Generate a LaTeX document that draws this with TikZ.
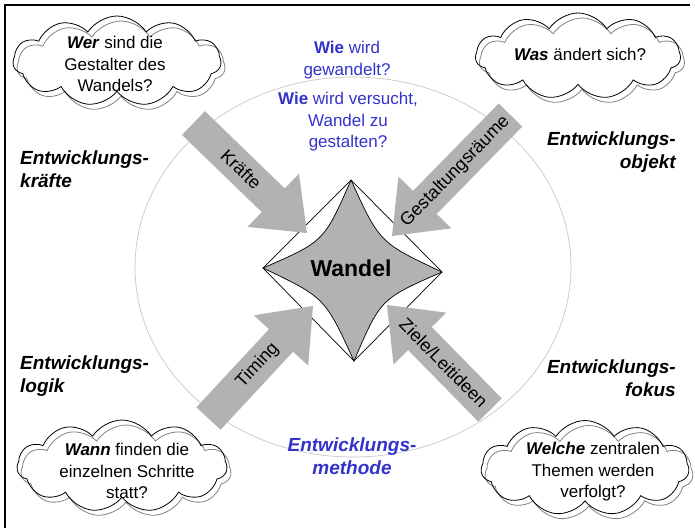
\documentclass[tikz,border=0pt]{standalone}
\usepackage{fontspec}
\setmainfont{Liberation Sans}
\usetikzlibrary{shapes.symbols,calc}
\definecolor{arrowgray}{RGB}{178,178,178}
\definecolor{wiblue}{RGB}{51,51,204}
\definecolor{ringgray}{RGB}{200,200,200}
\definecolor{shadowgray}{RGB}{130,130,130}
\newcommand{\grayarrow}[3]{%
  \coordinate (#3n) at ($(#2)!47pt!(#1)$);
  \fill[arrowgray] ($(#1)!16.5pt!90:(#2)$) -- ($(#3n)!16.5pt!90:(#2)$) --
    ($(#3n)!37pt!90:(#2)$) -- (#2) -- ($(#3n)!37pt!-90:(#2)$) --
    ($(#3n)!16.5pt!-90:(#2)$) -- ($(#1)!16.5pt!-90:(#2)$) -- cycle;}
\tikzset{
  cloudblack/.style={cloud, draw=black, line width=0.8pt, cloud puffs=11, cloud puff arc=115, inner sep=0pt},
  cloudgray/.style={cloud, draw=shadowgray, line width=0.8pt, cloud puffs=11, cloud puff arc=115, inner sep=0pt},
  cloudtext/.style={align=center, font=\fontsize{17}{21.5}\selectfont, inner sep=0pt},
  heading/.style={font=\fontsize{19}{23.5}\selectfont\bfseries\itshape, inner sep=0pt},
  bluetext/.style={align=center, text=wiblue, font=\fontsize{17}{21.5}\selectfont, inner sep=0pt},
  arrowlabel/.style={sloped, font=\fontsize{18}{20}\selectfont, inner sep=0pt},
}
\begin{document}
\begin{tikzpicture}[x=1pt,y=-1pt]
\useasboundingbox (0,0) rectangle (695,528);
\fill[white] (0,0) rectangle (695,528);
% frame
\draw[line width=2pt] (690,5) -- (5,5) -- (5,528);
% ring
\draw[ringgray, line width=0.7pt] (353,267) ellipse [x radius=218, y radius=190];
% diamond and star
\coordinate (T) at (351,180);
\coordinate (R) at (442,272);
\coordinate (B) at (354,361);
\coordinate (L) at (263,268);
\coordinate (C) at (352,270);
\draw[line width=0.7pt] (T) -- (R) -- (B) -- (L) -- cycle;
\draw[fill=arrowgray, line width=0.7pt]
  (T) .. controls ($(T)!0.5!(R)!0.38!(C)$) .. (R)
      .. controls ($(R)!0.5!(B)!0.38!(C)$) .. (B)
      .. controls ($(B)!0.5!(L)!0.38!(C)$) .. (L)
      .. controls ($(L)!0.5!(T)!0.38!(C)$) .. (T) -- cycle;
\node[font=\fontsize{23}{25}\selectfont\bfseries] (wandel) at (351,268) {Wandel};
% arrows
\coordinate (kt) at (193.5,123);
\coordinate (kp) at (307,233);
\coordinate (gt) at (510.5,115);
\coordinate (gp) at (392,236);
\coordinate (tt) at (208.5,418.5);
\coordinate (tp) at (313,306);
\coordinate (zt) at (490,410);
\coordinate (zp) at (387,305);
\grayarrow{kt}{kp}{ka}
\grayarrow{gt}{gp}{ga}
\grayarrow{tt}{tp}{ta}
\grayarrow{zt}{zp}{za}
\path (kt) -- (kp) node[arrowlabel, pos=0.42] (klab) {Kräfte};
\path (gt) -- (gp) node[arrowlabel, pos=0.466] (glab) {Gestaltungsräume};
\path (tt) -- (tp) node[arrowlabel, pos=0.47] (tlab) {Timing};
\path (zt) -- (zp) node[arrowlabel, pos=0.45] (zlab) {Ziele/Leitideen};
% clouds
\node[cloudgray, minimum width=208, minimum height=90, aspect=2.3] (c1g) at (121,66) {};
\node[cloudblack, minimum width=208, minimum height=90, aspect=2.3] (c1) at (117,61) {};
\node[cloudgray, minimum width=205, minimum height=86, aspect=2.4] (c2g) at (582,61) {};
\node[cloudblack, minimum width=205, minimum height=86, aspect=2.4] (c2) at (578,56) {};
\node[cloudgray, minimum width=210, minimum height=92, aspect=2.3] (c3g) at (126,471) {};
\node[cloudblack, minimum width=210, minimum height=92, aspect=2.3] (c3) at (122,466) {};
\node[cloudgray, minimum width=208, minimum height=95, aspect=2.2] (c4g) at (589,473) {};
\node[cloudblack, minimum width=208, minimum height=95, aspect=2.2] (c4) at (585,468) {};
\node[cloudtext] (t1) at (115,64) {\textbf{\textit{Wer}} sind die\\Gestalter des\\Wandels?};
\node[cloudtext] (t2) at (580,54) {\textbf{\textit{Was}} ändert sich?};
\node[cloudtext] (t3) at (127,471) {\textbf{\textit{Wann}} finden die\\einzelnen Schritte\\statt?};
\node[cloudtext] (t4) at (593,472) {\textbf{\textit{Welche}} zentralen\\Themen werden\\verfolgt?};
% headings
\node[heading, align=left, anchor=west] (h1) at (20,169) {Entwicklungs-\\kräfte};
\node[heading, align=right, anchor=east] (h2) at (676,152) {Entwicklungs-\\objekt};
\node[heading, align=left, anchor=west] (h3) at (20,376) {Entwicklungs-\\logik};
\node[heading, align=right, anchor=east] (h4) at (676,378) {Entwicklungs-\\fokus};
% blue texts
\node[bluetext] (b1) at (347,60) {\textbf{Wie} wird\\gewandelt?};
\node[bluetext] (b2) at (348,122) {\textbf{Wie} wird versucht,\\Wandel zu\\gestalten?};
\node[heading, align=center, text=wiblue] (b3) at (352,456) {Entwicklungs-\\methode};
\end{tikzpicture}
\end{document}
